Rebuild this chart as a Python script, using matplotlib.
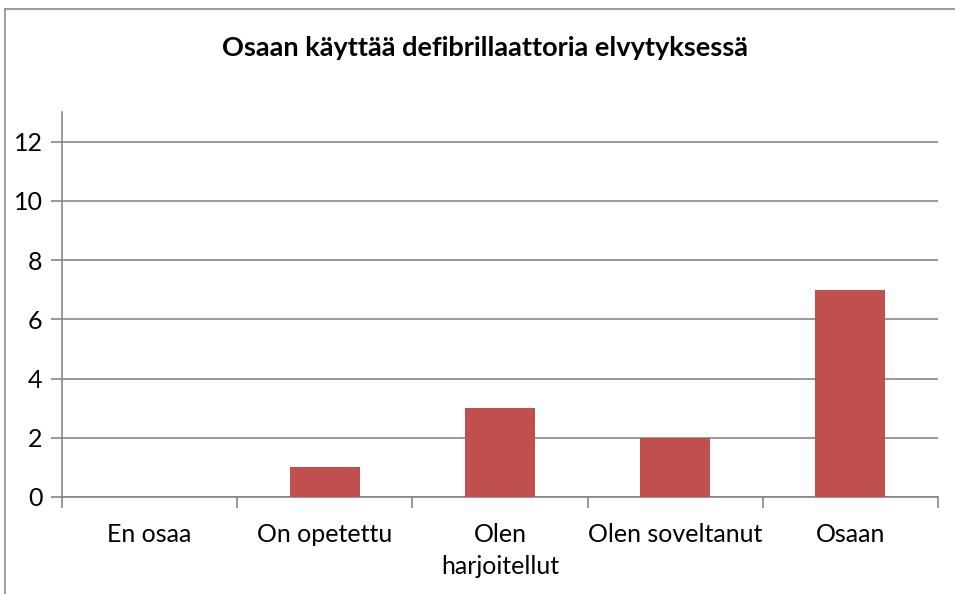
import matplotlib.pyplot as plt
from matplotlib.lines import Line2D

categories = ['En osaa', 'On opetettu', 'Olen\nharjoitellut', 'Olen soveltanut', 'Osaan']
counts = [0, 1, 3, 2, 7]
title = 'Osaan käyttää defibrillaattoria elvytyksessä'

plt.rcParams['font.family'] = ['Lato', 'DejaVu Sans']

W, H = 955, 594
fig = plt.figure(figsize=(W / 100, H / 100), dpi=100)

# chart area border (only left and top visible in the crop)
border = '#8c8c8c'
fig.lines.append(Line2D([5 / W, 5 / W], [0, 1 - 9 / H], transform=fig.transFigure,
                        color=border, linewidth=1.2))
fig.lines.append(Line2D([5 / W, 1], [1 - 9 / H, 1 - 9 / H], transform=fig.transFigure,
                        color=border, linewidth=1.2))

ax = fig.add_axes([62 / W, 1 - 497 / H, (938 - 62) / W, (497 - 112) / H])
x = list(range(len(categories)))
ax.bar(x, counts, width=0.4, color='#C0504D', zorder=3)

ax.set_xlim(-0.5, len(categories) - 0.5)
ax.set_ylim(0, 13)
ax.set_yticks(range(0, 13, 2))
ax.yaxis.grid(True, color='#868686', linewidth=1.2, zorder=0)

ax.set_xticks([i - 0.5 for i in range(len(categories) + 1)])
ax.set_xticklabels([])
ax.set_xticks(x, minor=True)
ax.set_xticklabels(categories, minor=True, fontsize=18, linespacing=1.45)
ax.tick_params(axis='x', which='minor', length=0, pad=19)
ax.tick_params(axis='x', which='major', length=8, color='#868686', width=1.2)
ax.tick_params(axis='y', length=8, color='#868686', width=1.2, labelsize=18, pad=6)

for s in ['top', 'right']:
    ax.spines[s].set_visible(False)
for s in ['left', 'bottom']:
    ax.spines[s].set_color('#868686')
    ax.spines[s].set_linewidth(1.2)

fig.text(485 / W, 1 - 48 / H, title, ha='center', va='center', fontsize=19.5, fontweight='bold')

fig.savefig('out.png', dpi=100)
